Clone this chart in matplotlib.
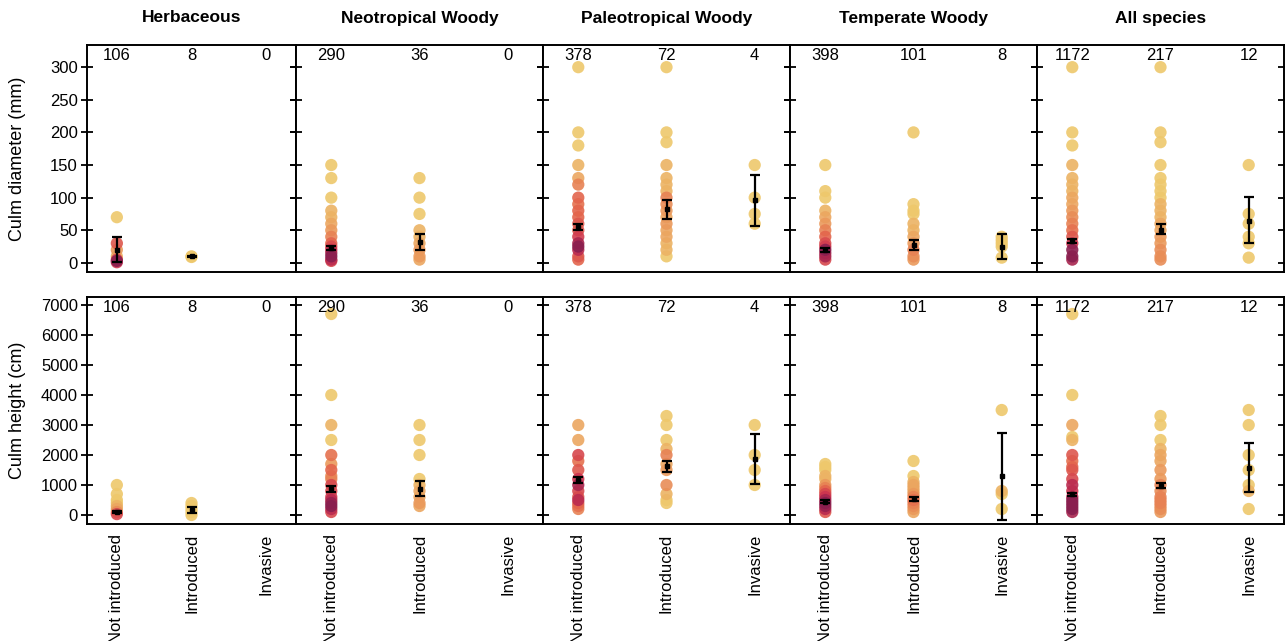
import numpy as np
import matplotlib
matplotlib.use("Agg")
import matplotlib.pyplot as plt
from matplotlib.colors import LinearSegmentedColormap, LogNorm

plt.rcParams["font.family"] = ["Liberation Sans", "DejaVu Sans"]

habitats = ["Herbaceous", "Neotropical Woody", "Paleotropical Woody", "Temperate Woody", "All species"]
statuses = ["Not introduced", "Introduced", "Invasive"]
n_species = [[106, 8, 0], [290, 36, 0], [378, 72, 4], [398, 101, 8], [1172, 217, 12]]

# (value, number of species sharing that value) for each status
diam_herb = [[(70, 1), (30, 12), (20, 4), (10, 2), (5, 15), (3, 40), (1, 20)],
             [(10, 1), (9, 1)],
             []]
diam_neo = [[(150, 1), (130, 1), (100, 1), (80, 2), (70, 2), (60, 3), (50, 4), (40, 6), (30, 10),
             (25, 14), (20, 20), (15, 30), (10, 40), (5, 25), (3, 15)],
            [(130, 1), (100, 1), (75, 1), (50, 2), (40, 2), (30, 3), (20, 4), (10, 4), (5, 3)],
            []]
diam_paleo = [[(300, 1), (200, 1), (180, 1), (150, 2), (130, 3), (120, 6), (100, 10), (90, 8), (80, 10),
               (70, 10), (60, 12), (50, 12), (40, 18), (30, 30), (25, 40), (20, 25), (10, 12), (5, 10)],
              [(300, 1), (200, 1), (185, 1), (150, 2), (130, 2), (120, 2), (110, 2), (100, 6), (90, 5),
               (80, 4), (70, 3), (60, 4), (50, 3), (40, 3), (30, 2), (20, 2), (10, 1)],
              [(150, 1), (100, 1), (75, 1), (60, 1)]]
diam_temp = [[(150, 1), (110, 1), (100, 1), (80, 2), (70, 3), (60, 4), (50, 6), (40, 10), (30, 14),
              (25, 18), (20, 40), (15, 30), (10, 30), (5, 15)],
             [(200, 1), (90, 1), (80, 1), (75, 1), (60, 2), (50, 2), (40, 3), (30, 4), (20, 6), (10, 5), (5, 4)],
             [(40, 1), (35, 1), (30, 1), (25, 1), (8, 1)]]
diam_all = [[(300, 1), (200, 1), (180, 1), (150, 2), (130, 2), (120, 2), (110, 2), (100, 3), (90, 3),
             (80, 4), (70, 5), (60, 6), (50, 8), (40, 12), (30, 20), (20, 40), (10, 40), (5, 30)],
            [(300, 1), (200, 1), (185, 1), (150, 1), (130, 1), (120, 1), (110, 1), (100, 1), (90, 2),
             (80, 2), (70, 2), (60, 3), (50, 3), (40, 4), (30, 4), (20, 5), (10, 5), (5, 5)],
            [(150, 1), (75, 1), (60, 1), (40, 1), (30, 1), (8, 1)]]

height_herb = [[(1000, 1), (700, 1), (500, 1), (400, 1), (300, 2), (200, 3), (100, 5), (30, 15)],
               [(400, 1), (300, 1), (200, 1), (100, 1), (0, 1)],
               []]
height_neo = [[(6700, 1), (4000, 1), (3000, 2), (2500, 1), (2000, 8), (1700, 4), (1500, 10), (1300, 5),
               (1200, 6), (1000, 15), (800, 15), (600, 18), (500, 25), (400, 35), (300, 40), (200, 25), (100, 15)],
              [(3000, 1), (2500, 1), (2000, 1), (1200, 1), (1000, 2), (800, 3), (600, 3), (400, 4), (300, 3)],
              []]
height_paleo = [[(3000, 3), (2500, 3), (2000, 15), (1800, 8), (1500, 12), (1200, 20), (1000, 30), (800, 15),
                 (600, 12), (500, 25), (400, 10), (300, 8), (200, 6)],
                [(3300, 1), (3000, 1), (2500, 1), (2200, 2), (2000, 6), (1700, 3), (1500, 4), (1000, 5),
                 (700, 2), (500, 1), (400, 1)],
                [(3000, 1), (2000, 1), (1500, 1), (1000, 1)]]
height_temp = [[(1700, 1), (1600, 1), (1500, 1), (1300, 2), (1200, 2), (1000, 4), (900, 6), (800, 10),
                (700, 15), (600, 20), (500, 30), (400, 40), (300, 35), (200, 25), (100, 12)],
               [(1800, 1), (1300, 1), (1100, 2), (1000, 3), (900, 3), (800, 3), (700, 4), (600, 6),
                (500, 8), (400, 6), (300, 5), (200, 4), (100, 3)],
               [(3500, 1), (800, 2), (700, 1), (200, 1)]]
height_all = [[(6700, 1), (4000, 1), (3000, 3), (2600, 1), (2500, 2), (2000, 12), (1800, 8), (1600, 10),
               (1500, 12), (1200, 15), (1000, 25), (800, 20), (600, 25), (500, 40), (400, 40), (300, 40),
               (200, 40), (100, 30)],
              [(3300, 1), (3000, 1), (2500, 1), (2200, 2), (2000, 3), (1800, 3), (1500, 4), (1200, 4),
               (1000, 6), (800, 5), (600, 6), (500, 6), (400, 6), (300, 5), (200, 5), (100, 4)],
              [(3500, 1), (3000, 1), (2000, 1), (1500, 1), (1000, 1), (800, 2), (200, 1)]]

# mean, lower, upper of the error bars
diam_bars = [[(20, 2, 39), (10, 9, 11), None],
             [(23, 20, 26), (32, 19, 45), None],
             [(55, 50, 60), (83, 68, 97), (96, 57, 134)],
             [(20, 17, 23), (27, 20, 35), (25, 6, 45)],
             [(33, 30, 36), (51, 45, 60), (64, 30, 101)]]
height_bars = [[(110, 80, 140), (160, 60, 270), None],
               [(860, 760, 960), (880, 630, 1130), None],
               [(1160, 1060, 1260), (1620, 1450, 1800), (1870, 1030, 2700)],
               [(440, 390, 490), (530, 470, 600), (1300, -150, 2750)],
               [(700, 650, 750), (980, 900, 1080), (1580, 780, 2390)]]

diam_data = [diam_herb, diam_neo, diam_paleo, diam_temp, diam_all]
height_data = [height_herb, height_neo, height_paleo, height_temp, height_all]

cmap = LinearSegmentedColormap.from_list(
    "dens", [(0.0, "#EEC86C"), (0.3, "#EBA25E"), (0.55, "#E4684C"),
             (0.75, "#CB2F50"), (0.9, "#8A1F4F"), (1.0, "#3E1446")])
norm = LogNorm(vmin=1, vmax=60, clip=True)

W, H = 1285, 641
fig = plt.figure(figsize=(W / 100, H / 100), dpi=100)

lefts = [87, 296, 543, 790, 1037]
rights = [296, 543, 790, 1037, 1284]
rows = [(45, 272), (297, 524)]

row_specs = [
    (diam_data, diam_bars, (-14, 334), np.arange(0, 301, 50), "Culm diameter (mm)"),
    (height_data, height_bars, (-300, 7267), np.arange(0, 7001, 1000), "Culm height (cm)"),
]

for r, (data, bars, ylim, yticks, ylabel) in enumerate(row_specs):
    top, bottom = rows[r]
    for c in range(5):
        ax = fig.add_axes([lefts[c] / W, 1 - bottom / H,
                           (rights[c] - lefts[c]) / W, (bottom - top) / H])
        for k in range(3):
            pts = sorted(data[c][k], key=lambda p: p[1])
            if pts:
                vals = [p[0] for p in pts]
                cnts = [p[1] for p in pts]
                ax.scatter([k] * len(vals), vals, c=cnts, cmap=cmap, norm=norm,
                           s=78, alpha=0.9, linewidths=0, zorder=2)
            if bars[c][k] is not None:
                m, lo, hi = bars[c][k]
                ax.errorbar([k], [m], yerr=[[m - lo], [hi - m]], fmt="s", color="black",
                            markersize=3.5, elinewidth=1.6, capsize=3.5, capthick=1.6, zorder=3)
            ax.text(k, 0.953, str(n_species[c][k]), transform=ax.get_xaxis_transform(),
                    ha="center", va="center", fontsize=12)

        ax.set_xlim(-0.4, 2.4)
        ax.set_ylim(*ylim)
        ax.set_yticks(yticks)
        ax.set_xticks(range(3))
        ax.tick_params(axis="y", left=True, right=True, direction="inout",
                       length=9, width=1.3, labelsize=12, pad=2)
        ax.tick_params(axis="x", length=0, labelsize=12, pad=7)
        if c > 0:
            ax.tick_params(axis="y", labelleft=False)
        if r == 1:
            ax.set_xticklabels(statuses, rotation=90)
        else:
            ax.set_xticklabels([])
            fig.text((lefts[c] + rights[c]) / 2 / W, 1 - 18 / H, habitats[c],
                     ha="center", va="center", fontsize=12.5, fontweight="bold")
        for s in ax.spines.values():
            s.set_linewidth(1.4)
    fig.text(18 / W, 1 - (top + bottom) / 2 / H, ylabel, rotation=90,
             ha="center", va="center", fontsize=13)

fig.savefig("out.png", dpi=100)
